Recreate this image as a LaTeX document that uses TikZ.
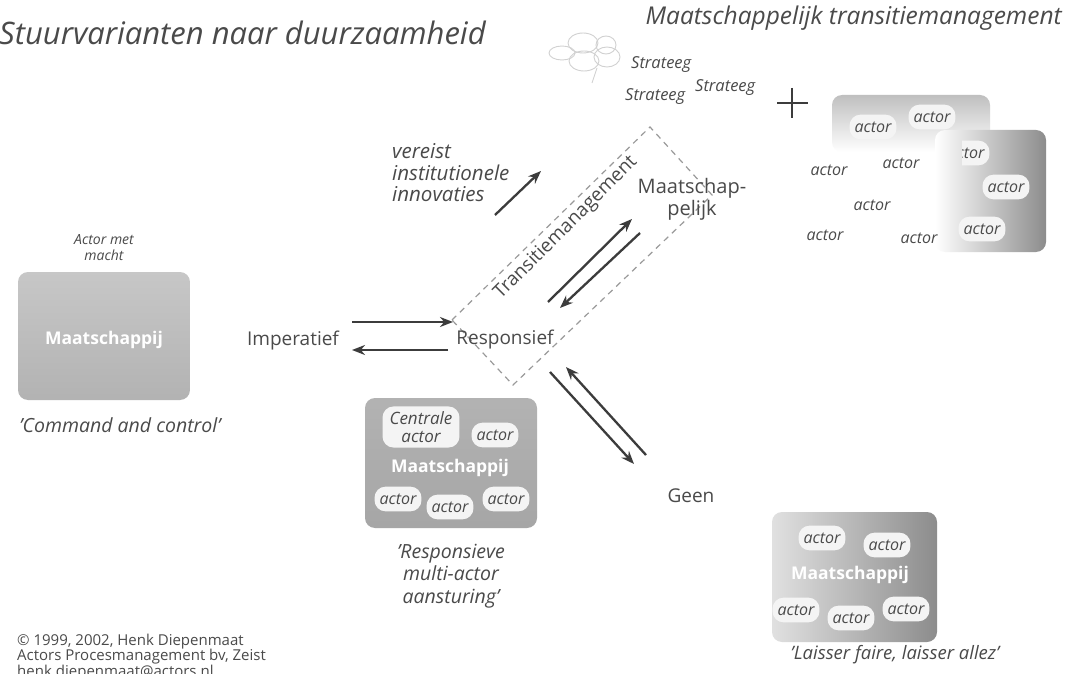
\documentclass[tikz,border=0pt]{standalone}
\usepackage{fontspec}
\setmainfont{Open Sans}
\usetikzlibrary{arrows.meta,shapes.geometric}
\definecolor{txt}{HTML}{4A4A4A}
\definecolor{arrc}{HTML}{3C3C3C}
\definecolor{dashc}{HTML}{9A9A9A}
\definecolor{blob}{HTML}{F4F4F4}
\begin{document}
\begin{tikzpicture}[x=1pt,y=-1pt,
  every node/.style={text=txt, inner sep=0pt},
  title/.style={font=\itshape\fontsize{31}{33}\selectfont, anchor=west},
  lab/.style={font=\fontsize{19}{21}\selectfont},
  ital/.style={font=\itshape\fontsize{19.5}{22.5}\selectfont, align=center},
  small/.style={font=\itshape\fontsize{14}{16}\selectfont, align=center},
  strat/.style={font=\itshape\fontsize{16.5}{18}\selectfont},
  actorlbl/.style={font=\itshape\fontsize{16}{17}\selectfont},
  actorblob/.style={actorlbl, fill=blob, rounded corners=11pt, inner xsep=5pt, inner ysep=7pt, align=center},
  soc/.style={font=\bfseries\fontsize{17.5}{19}\selectfont, text=white},
  arr/.style={draw=arrc, line width=2.3pt, -{Stealth[length=13pt,width=10pt]}},
  grbox/.style={rounded corners=10pt, draw=none},
  copy/.style={font=\fontsize{15}{15}\selectfont, anchor=west}
]
\useasboundingbox (0,0) rectangle (1069,674);
\fill[white] (0,0) rectangle (1069,674);

% titles
\node[title] (t1) at (-1,33) {Stuurvarianten naar duurzaamheid};
\node[font=\itshape\fontsize{24.5}{26}\selectfont, anchor=east] (t2) at (1062,18) {Maatschappelijk transitiemanagement};

% cloud
\begin{scope}[draw=black!18, line width=0.9pt]
\draw (583,43) ellipse (15 and 10);
\draw (606,45) ellipse (10 and 9);
\draw (562,53) ellipse (13 and 7);
\draw (607,57) ellipse (13 and 10);
\draw (584,61) ellipse (15 and 10);
\draw (597,68) -- (592,83);
\end{scope}
\node[strat, anchor=west] (s1) at (631,65) {Strateeg};
\node[strat, anchor=west] (s2) at (625,97) {Strateeg};
\node[strat, anchor=west] (s3) at (695,88) {Strateeg};
% plus
\draw[arrc, line width=2.8pt] (777,103) -- (808,103) (792,88) -- (792,118);

% actor network boxes (top right)
\shade[rounded corners=10pt, top color=black!25, bottom color=white] (832,95) rectangle (990,152);
\shade[rounded corners=10pt, left color=white, right color=black!45] (935,130) rectangle (1046,252);
\node[actorblob] (n1) at (873,127) {actor};
\node[actorblob] (n2) at (932,117) {actor};
\begin{scope}
\clip (962,136) rectangle (1012,170);
\node[actorblob] (n3) at (966,153) {actor};
\end{scope}
\node[actorblob] (n4) at (1006,187) {actor};
\node[actorblob] (n5) at (982,229) {actor};
\node[actorlbl] (n6) at (829,170) {actor};
\node[actorlbl] (n7) at (901,163) {actor};
\node[actorlbl] (n8) at (872,205) {actor};
\node[actorlbl] (n9) at (825,235) {actor};
\node[actorlbl] (n10) at (919,238) {actor};

% vereist
\node[font=\itshape\fontsize{20.5}{21.5}\selectfont, align=left, anchor=west] (ver) at (392,173) {vereist\\institutionele\\innovaties};

% dashed transition box
\draw[dashc, line width=1.2pt, dash pattern=on 6pt off 5pt] (452,320) -- (650,127) -- (712,195) -- (513,385) -- cycle;
\node[lab, rotate=45] (tm) at (566,228) {Transitiemanagement};
\node[font=\fontsize{20}{22}\selectfont, align=center] (maat) at (692,199) {Maatschap-\\pelijk};

% main labels
\node[lab] (imp) at (293,341) {Imperatief};
\node[lab] (resp) at (505,340) {Responsief};
\node[lab] (geen) at (691,496) {Geen};

% arrows
\coordinate (a1s) at (352,322); \coordinate (a1e) at (453,322);
\coordinate (a2s) at (448,350); \coordinate (a2e) at (352,350);
\coordinate (a3s) at (548,302); \coordinate (a3e) at (632,219);
\coordinate (a4s) at (640,233); \coordinate (a4e) at (560,308);
\coordinate (a5s) at (550,372); \coordinate (a5e) at (634,464);
\coordinate (a6s) at (646,455); \coordinate (a6e) at (566,367);
\coordinate (a7s) at (495,215); \coordinate (a7e) at (541,171);
\draw[arr] (a1s) -- (a1e);
\draw[arr] (a2s) -- (a2e);
\draw[arr] (a3s) -- (a3e);
\draw[arr] (a4s) -- (a4e);
\draw[arr] (a5s) -- (a5e);
\draw[arr] (a6s) -- (a6e);
\draw[arr] (a7s) -- (a7e);

% left box
\node[small] (amm) at (104,248) {Actor met\\macht};
\shade[grbox, top color=black!22, bottom color=black!30] (18,272) rectangle (190,400);
\node[soc] (m1) at (104,340) {Maatschappij};
\node[ital] (cc) at (120,425) {'Command and control'};

% middle box
\shade[grbox, top color=black!30, bottom color=black!35] (365,398) rectangle (537,528);
\node[actorblob, font=\itshape\fontsize{17}{18}\selectfont, inner ysep=5pt, inner xsep=7pt] (ca) at (421,427) {Centrale\\actor};
\node[actorblob] (b2) at (495,435) {actor};
\node[soc] (m2) at (450,468) {Maatschappij};
\node[actorblob] (b3) at (398,499) {actor};
\node[actorblob] (b4) at (450,507) {actor};
\node[actorblob] (b5) at (506,499) {actor};
\node[ital] (rm) at (451,576) {'Responsieve\\multi-actor\\aansturing'};

% right bottom box
\shade[grbox, left color=black!12, right color=black!45] (772,512) rectangle (937,642);
\node[actorblob] (c1) at (822,538) {actor};
\node[actorblob] (c2) at (887,545) {actor};
\node[soc] (m3) at (850,575) {Maatschappij};
\node[actorblob] (c3) at (796,610) {actor};
\node[actorblob] (c4) at (851,618) {actor};
\node[actorblob] (c5) at (906,609) {actor};
\node[font=\itshape\fontsize{18.5}{21}\selectfont] (lf) at (895,655) {'Laisser faire, laisser allez'};

% copyright
\node[copy] (cp1) at (17,642) {© 1999, 2002, Henk Diepenmaat};
\node[copy] (cp2) at (17,657) {Actors Procesmanagement bv, Zeist};
\node[copy] (cp3) at (17,673) {henk.diepenmaat@actors.nl};
\end{tikzpicture}
\end{document}
